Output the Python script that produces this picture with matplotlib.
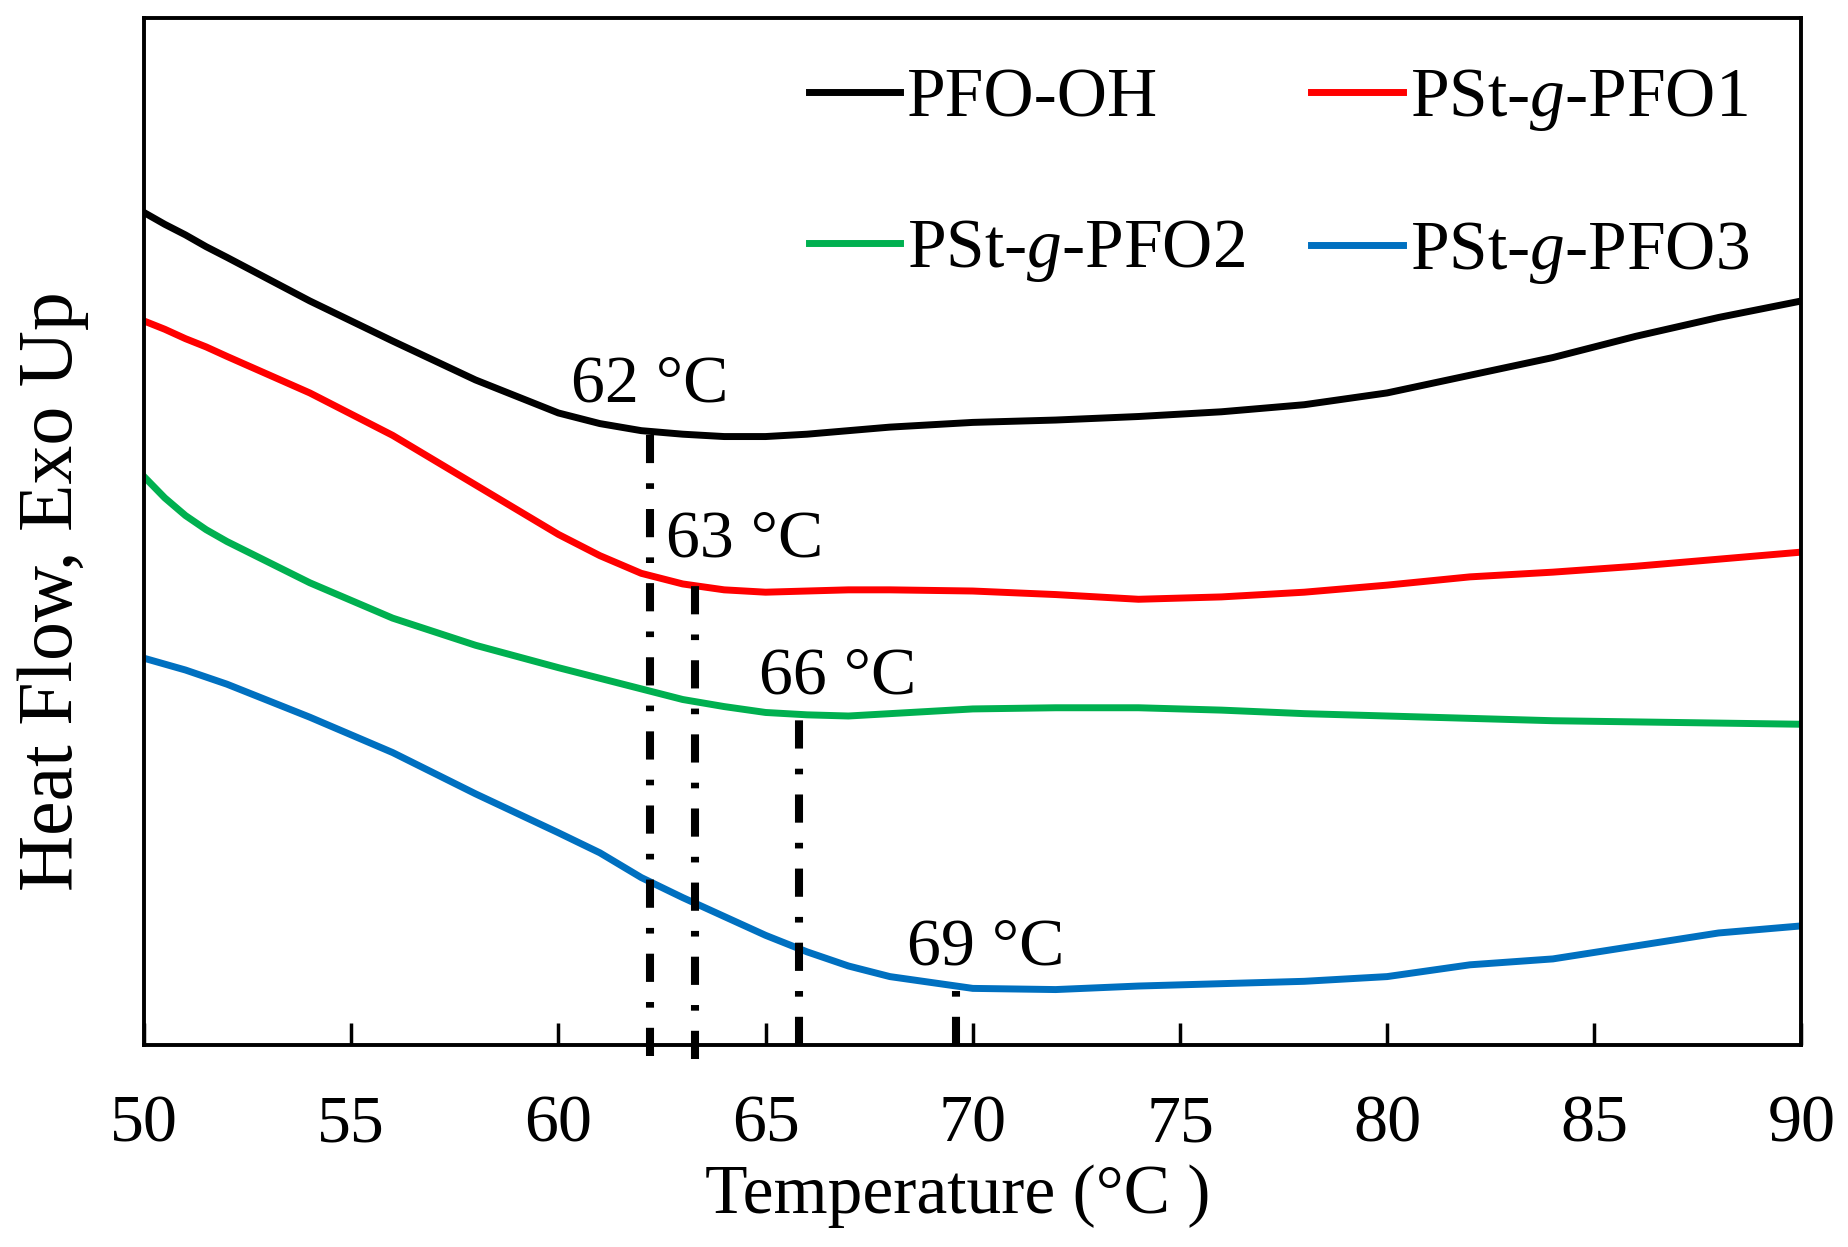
import numpy as np
import matplotlib
matplotlib.use("Agg")
import matplotlib.pyplot as plt

plt.rcParams['font.family'] = ['Liberation Serif', 'DejaVu Serif']
plt.rcParams['mathtext.fontset'] = 'custom'
plt.rcParams['mathtext.rm'] = 'Liberation Serif'
plt.rcParams['mathtext.it'] = 'Liberation Serif:italic'

# ---- data (temperature in °C, heat flow in arbitrary units, exo up) ----
temperature = [50, 50.5, 51, 51.5, 52, 54, 56, 58, 60, 61, 62, 63, 64, 65, 66,
               67, 68, 70, 72, 74, 76, 78, 80, 82, 84, 86, 88, 90]
pfo_oh = [7.06, 6.96, 6.87, 6.77, 6.68, 6.31, 5.97, 5.64, 5.36, 5.27, 5.21,
          5.18, 5.16, 5.16, 5.18, 5.21, 5.24, 5.28, 5.30, 5.33, 5.37, 5.43,
          5.53, 5.68, 5.83, 6.01, 6.17, 6.31]
pfo1 = [6.14, 6.07, 5.99, 5.92, 5.84, 5.53, 5.17, 4.75, 4.33, 4.15, 4.00,
        3.91, 3.86, 3.84, 3.85, 3.86, 3.86, 3.85, 3.82, 3.78, 3.80, 3.84,
        3.90, 3.97, 4.01, 4.06, 4.12, 4.18]
pfo2 = [4.82, 4.64, 4.49, 4.37, 4.27, 3.92, 3.62, 3.39, 3.20, 3.11, 3.02,
        2.93, 2.87, 2.82, 2.80, 2.79, 2.81, 2.85, 2.86, 2.86, 2.84, 2.81,
        2.79, 2.77, 2.75, 2.74, 2.73, 2.72]
pfo3 = [3.28, 3.23, 3.18, 3.12, 3.06, 2.78, 2.48, 2.13, 1.80, 1.63, 1.42,
        1.25, 1.09, 0.93, 0.79, 0.67, 0.58, 0.48, 0.47, 0.50, 0.52, 0.54,
        0.58, 0.68, 0.73, 0.84, 0.95, 1.01]
series_names = ['PFO-OH', 'PSt-$g$-PFO1', 'PSt-$g$-PFO2', 'PSt-$g$-PFO3']
series_colors = ['#000000', '#ff0000', '#00b050', '#0070c0']

tg_positions = [62.2, 63.3, 65.8, 69.6]
tg_labels = ['62 °C', '63 °C', '66 °C', '69 °C']
tg_label_x = [62.2, 64.5, 66.75, 70.3]
tg_label_y = [5.46, 4.14, 2.98, 0.68]
tg_line_bottom = [-0.09, -0.12, 0.0, 0.0]

x_ticks = [50, 55, 60, 65, 70, 75, 80, 85, 90]

# ---- figure ----
fig = plt.figure(figsize=(18.49, 12.47), dpi=100)
ax = fig.add_axes([0.0779, 0.162, 0.8964, 0.8236])

all_series = [pfo_oh, pfo1, pfo2, pfo3]
handles = []
for vals, name, col in zip(all_series, series_names, series_colors):
    h, = ax.plot(temperature, vals, color=col, lw=5.0, label=name,
                 solid_joinstyle='round')
    handles.append(h)

# Tg marker lines from each curve down to the axis
for tg, s, yb in zip(tg_positions, all_series, tg_line_bottom):
    ytop = np.interp(tg, temperature, s)
    ax.plot([tg, tg], [yb, ytop], color='black', lw=5.8,
            linestyle=(0, (3.5, 2.5, 0.7, 2.5)), dash_capstyle='butt',
            clip_on=False, zorder=3)

for lab, tx, ty in zip(tg_labels, tg_label_x, tg_label_y):
    ax.text(tx, ty, lab, ha='center', va='baseline', fontsize=49)

ax.set_xlim(50, 90)
ax.set_ylim(0, 8.71)
ax.set_xticks(x_ticks)
ax.set_yticks([])
ax.tick_params(axis='x', direction='in', length=16, width=2.5,
               labelsize=49, pad=36)
for sp in ax.spines.values():
    sp.set_linewidth(2.8)

ax.set_xlabel('Temperature (°C )', fontsize=50, labelpad=6)
ax.xaxis.label.set_x(0.491)
ax.set_ylabel('Heat Flow, Exo Up', fontsize=56)
ax.yaxis.label.set_va('center')
ax.yaxis.set_label_coords(-0.055, 0.442)

order = [0, 2, 1, 3]
ax.legend([handles[i] for i in order], [series_names[i] for i in order],
          ncol=2, loc='upper left', bbox_to_anchor=(0.401, 0.952),
          frameon=False, fontsize=50, handlelength=1.32, handletextpad=0.1,
          columnspacing=0.95, labelspacing=1.25, borderpad=0, borderaxespad=0)

fig.savefig('out.png', dpi=100)
